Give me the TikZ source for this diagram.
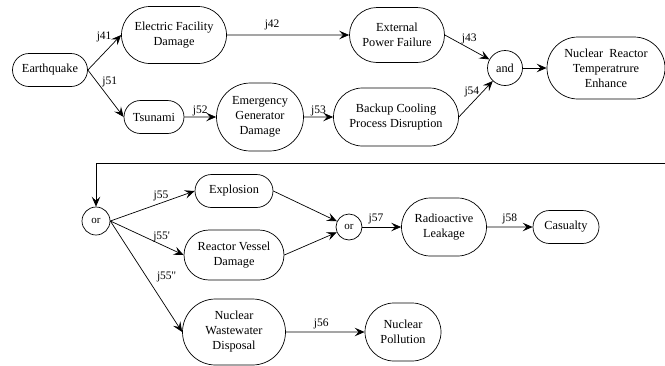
\documentclass[tikz,border=0pt]{standalone}
\usepackage{fontspec}
\setmainfont{Liberation Serif}
\newfontfamily\timesfont{Liberation Serif}
\usetikzlibrary{arrows.meta,shapes.misc}

\begin{document}
\begin{tikzpicture}[x=1pt,y=-1pt,
  evt/.style={draw,rounded rectangle,align=center,inner sep=0pt,line width=0.7pt,font=\timesfont\fontsize{12.3}{15}\selectfont},
  gate/.style={draw,circle,inner sep=0pt,line width=0.7pt},
  lbl/.style={font=\timesfont\fontsize{11.5}{12}\selectfont,inner sep=1pt},
  arr/.style={-{Stealth[length=10pt,width=8.5pt,inset=4pt]},line width=0.7pt}]
  \useasboundingbox (0,0) rectangle (665,365);
  % upper chain
  \node[evt,minimum width=75pt,minimum height=33pt] (eq) at (50,70) {Earthquake};
  \node[evt,minimum width=105pt,minimum height=57pt] (efd) at (174,35) {Electric Facility\\Damage};
  \node[evt,minimum width=95pt,minimum height=55pt] (epf) at (397,35) {External\\Power Failure};
  \node[gate,minimum size=35pt,font=\timesfont\fontsize{12.3}{15}\selectfont] (and) at (505,68) {and};
  \node[evt,minimum width=118pt,minimum height=62pt] (nrte) at (606,68) {Nuclear\ \ Reactor\\Temperatrure\\Enhance};
  \node[evt,minimum width=60pt,minimum height=33pt] (tsu) at (154,117) {Tsunami};
  \node[evt,minimum width=87pt,minimum height=68pt] (egd) at (260,117) {Emergency\\Generator\\Damage};
  \node[evt,minimum width=125pt,minimum height=58pt] (bcpd) at (396,117) {Backup Cooling\\Process Disruption};
  % lower chain
  \node[gate,minimum size=28pt,font=\timesfont\fontsize{11}{12}\selectfont] (or1) at (96,221) {or};
  \node[evt,minimum width=78pt,minimum height=33pt] (exp) at (234,191) {Explosion};
  \node[evt,minimum width=100pt,minimum height=50pt] (rvd) at (234,255) {Reactor Vessel\\Damage};
  \node[evt,minimum width=103pt,minimum height=66pt] (nwd) at (234,332) {Nuclear\\Wastewater\\Disposal};
  \node[gate,minimum size=26pt,font=\timesfont\fontsize{11}{12}\selectfont] (or2) at (349,227) {or};
  \node[evt,minimum width=85pt,minimum height=58pt] (rl) at (444,227) {Radioactive\\Leakage};
  \node[evt,minimum width=66pt,minimum height=33pt] (cas) at (566,227) {Casualty};
  \node[evt,minimum width=76pt,minimum height=58pt] (np) at (403,332) {Nuclear\\Pollution};
  \coordinate (turn) at (665,163);

  \draw[arr] (eq.east) -- node[lbl,pos=0.75,above left] {j41} (efd.west);
  \draw[arr] (eq.east) -- node[lbl,pos=0.2,right=6pt,yshift=-3pt] {j51} (tsu.west);
  \draw[arr] (efd) -- node[lbl,pos=0.37,above=4pt] {j42} (epf);
  \draw[arr] (epf.east) -- node[lbl,pos=0.55,above=3pt] {j43} (and);
  \draw[arr] (tsu) -- node[lbl,above] {j52} (egd);
  \draw[arr] (egd) -- node[lbl,above] {j53} (bcpd);
  \draw[arr] (bcpd.east) -- node[lbl,pos=0.7,left=2pt] {j54} (and);
  \draw[arr] (and) -- (nrte);
  \draw[arr] (turn) -| (or1);
  \draw[arr] (or1.east) -- node[lbl,pos=0.6,above=1pt] {j55} (exp.west);
  \draw[arr] (or1.east) -- node[lbl,pos=0.7,above=2pt] {j55'} (rvd.west);
  \draw[arr] (or1.east) -- node[lbl,pos=0.52,right=8pt,yshift=2pt] {j55''} (nwd.west);
  \draw[arr] (exp.east) -- (or2);
  \draw[arr] (rvd.east) -- (or2);
  \draw[arr] (or2) -- node[lbl,pos=0.35,above=2pt] {j57} (rl);
  \draw[arr] (rl) -- node[lbl,above=2pt] {j58} (cas);
  \draw[arr] (nwd) -- node[lbl,pos=0.45,above=2pt] {j56} (np);
\end{tikzpicture}
\end{document}
